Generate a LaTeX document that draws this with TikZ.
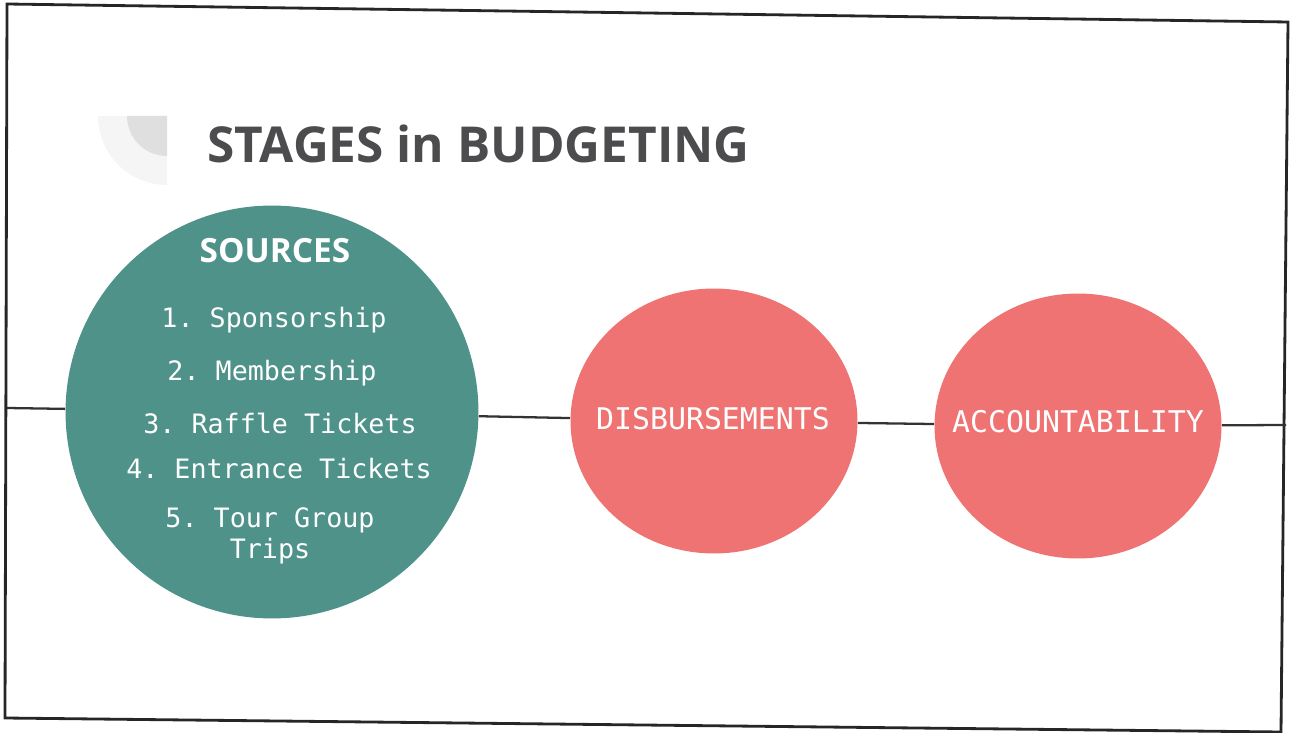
\documentclass[tikz,border=0pt]{standalone}
\usepackage{fontspec}
\setmainfont{Open Sans}
\setmonofont{DejaVu Sans Mono}
\usetikzlibrary{positioning,shapes.geometric}

\definecolor{srcteal}{HTML}{4E928A}
\definecolor{stagepink}{HTML}{EE7372}
\definecolor{titlegray}{HTML}{4C4C4E}

\begin{document}
\begin{tikzpicture}[x=0.02cm,y=-0.02cm,
  stage/.style={ellipse, fill=stagepink, minimum width=5.74cm, minimum height=5.3cm,
    inner sep=0pt},
  stagelabel/.style={inner sep=0pt, text=white, font=\ttfamily\fontsize{17}{20}\selectfont},
  item/.style={anchor=base, inner sep=0pt, text=white,
    font=\ttfamily\fontsize{15.2}{18}\selectfont},
  timeline/.style={line width=1.3pt, black!80}]
\useasboundingbox (0,0) rectangle (1292,733);

% page frame (slightly skewed)
\coordinate (tl) at (7,4);
\coordinate (tr) at (1288,22);
\coordinate (br) at (1281,732);
\coordinate (bl) at (5,718);
\draw[line width=1.6pt, black!85] (tl) -- (tr) -- (br) -- (bl) -- cycle;

% corner ornament
\fill[gray!8] (167,116) -- (98,116) arc[start angle=180, end angle=90, radius=69] -- cycle;
\fill[gray!25] (167,116) -- (127,116) arc[start angle=180, end angle=90, radius=40] -- cycle;

\node[anchor=base west, inner sep=0pt, text=titlegray,
  font=\bfseries\fontsize{28.2}{34}\selectfont] (title) at (207,163) {STAGES in BUDGETING};

% stages
\node[circle, fill=srcteal, minimum size=8.26cm, inner sep=0pt] (src) at (272,412) {};
\node[stage] (disb) at (714,421) {};
\node[stage] (acct) at (1078,426) {};
\node[stagelabel] (disbtxt) at (713,419) {DISBURSEMENTS};
\node[stagelabel] (accttxt) at (1078,422) {ACCOUNTABILITY};

\node[anchor=base, inner sep=0pt, text=white,
  font=\bfseries\fontsize{19}{22}\selectfont] (srchead) at (275,263) {SOURCES};
\node[item] (it1) at (274,328) {1. Sponsorship};
\node[item] (it2) at (272,380) {2. Membership};
\node[item] (it3) at (280,433) {3. Raffle Tickets};
\node[item] (it4) at (279,478) {4. Entrance Tickets};
\node[item] (it5) at (270,527) {5. Tour Group};
\node[item] (it5b) at (270,558) {Trips};

% line through the stages
\coordinate (lineL) at (7,408);
\coordinate (lineR) at (1286,425);
\draw[timeline] (lineL) -- (src);
\draw[timeline] (src) -- (disb);
\draw[timeline] (disb) -- (acct);
\draw[timeline] (acct) -- (lineR);
\end{tikzpicture}
\end{document}
